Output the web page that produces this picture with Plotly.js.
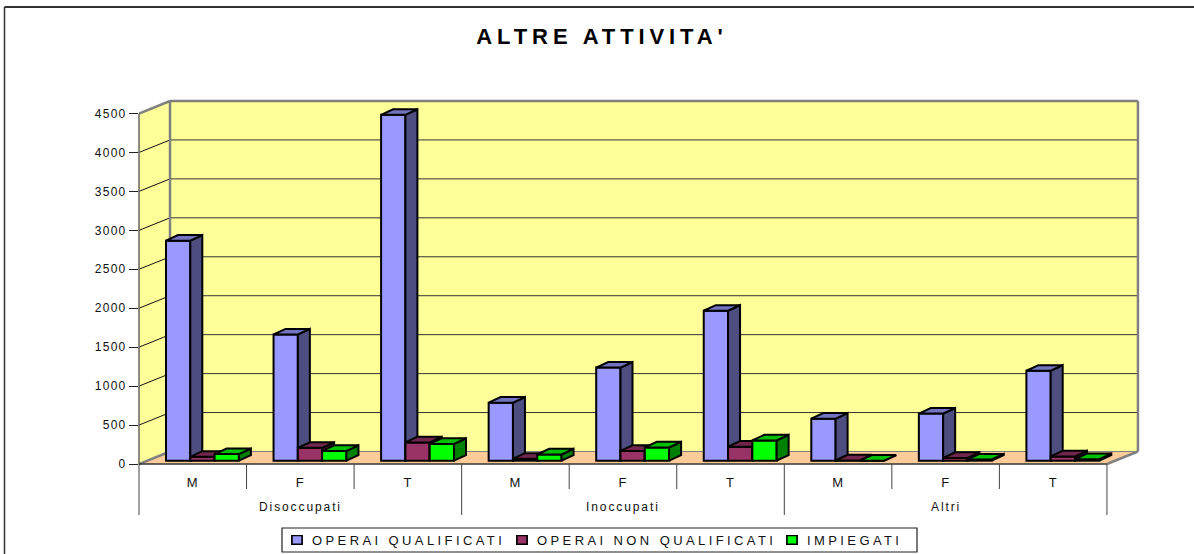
<!DOCTYPE html>
<html>
<head>
<meta charset="utf-8">
<script src="https://cdn.plot.ly/plotly-3.0.1.min.js"></script>
<style>
html,body{margin:0;padding:0;background:#fff;overflow:hidden}
.ytick text{letter-spacing:1.3px}
.xtick text{letter-spacing:1px}
.annotation-text{letter-spacing:1.9px}
.legendtext,.legend2text,.legend3text{letter-spacing:3.4px}
.gtitle{letter-spacing:4.9px}
.legendpoints path{transform:translateX(25px) scale(.85,.72)}
</style>
</head>
<body>
<div id="chart" style="width:1194px;height:554px"></div>
<script>
const titleText = "ALTRE ATTIVITA'";
const groupLabels = ["Disoccupati", "Inoccupati", "Altri"];
const genderLabels = ["M", "F", "T", "M", "F", "T", "M", "F", "T"];
const seriesNames = ["OPERAI QUALIFICATI", "OPERAI NON QUALIFICATI", "IMPIEGATI"];
const operaiQualificati = [2825, 1620, 4440, 745, 1195, 1925, 540, 605, 1155];
const operaiNonQualificati = [50, 165, 235, 25, 125, 180, 3, 35, 55];
const impiegati = [85, 125, 215, 80, 170, 260, 0, 15, 20];
const yTicks = [0, 500, 1000, 1500, 2000, 2500, 3000, 3500, 4000, 4500];

// layout geometry in pixels
const W = 1194, H = 554;
const pL = 139, pR = 1141, pT = 98, pB = 467;
const catPx = 107.55, unitPx = 350.5 / 4500, zeroPx = 464;
const xRange = [0, (pR - pL) / catPx];
const yRange = [-(pB - zeroPx) / unitPx, (zeroPx - pT) / unitPx];
const py = v => 1 - v / H;
const wallDx = 31 / catPx, wallDy = 12.5 / unitPx;
const barW = 24.3 / catPx, barStart = 27 / catPx, barBase = 3.3 / unitPx;
const depthX = 12 / catPx, depthY = 5.6 / unitPx;

const seriesValues = [operaiQualificati, operaiNonQualificati, impiegati];
const frontColors = ["#9999FF", "#993366", "#00FF00"];
const sideColors = ["#4D4D80", "#4C1933", "#008000"];
const topColors = ["#7373BF", "#73264D", "#00BF00"];
const legendIds = ["legend", "legend2", "legend3"];
const legendTextStart = [312, 537, 807];
const legendTextWidth = [195, 240, 100];
const n = genderLabels.length;
const idx = genderLabels.map((_, i) => i);
const outline = {color: "#000", width: 2};

const traces = [];
seriesValues.forEach((vals, s) => {
  const xa = s === 0 ? "x" : "x" + (s + 1), ya = s === 0 ? "y" : "y" + (s + 1);
  const off = barStart + s * barW;
  traces.push({
    type: "bar", name: seriesNames[s], x: idx, y: vals, legend: legendIds[s],
    base: vals.map(() => barBase), width: barW, offset: off,
    xaxis: xa, yaxis: ya, hoverinfo: "skip",
    marker: {color: frontColors[s], line: outline}
  });
  const sx = [], sy = [], tx = [], ty = [];
  vals.forEach((v, i) => {
    const l = i + off, r = l + barW, t = barBase + v;
    sx.push(r, r + depthX, r + depthX, r, r, null);
    sy.push(barBase, barBase + depthY, t + depthY, t, barBase, null);
    tx.push(l, l + depthX, r + depthX, r, l, null);
    ty.push(t, t + depthY, t + depthY, t, t, null);
  });
  [[sx, sy, sideColors[s]], [tx, ty, topColors[s]]].forEach(p => traces.push({
    type: "scatter", mode: "lines", x: p[0], y: p[1], fill: "toself",
    fillcolor: p[2], line: Object.assign({}, outline, {shape: "linear"}), connectgaps: false,
    xaxis: xa, yaxis: ya, showlegend: false, hoverinfo: "skip"
  }));
});

// walls, floor and grid
const topV = 4500 + wallDy, backL = wallDx, backR = n + wallDx;
const poly = pts => "M" + pts.map(p => p[0] + "," + p[1]).join("L") + "Z";
const dataShape = (o) => Object.assign({xref: "x", yref: "y", layer: "below"}, o);
const shapes = [
  dataShape({type: "path", path: poly([[0, 4500], [backL, topV], [backL, wallDy], [0, 0]]), fillcolor: "#FFFF99", line: {width: 0}}),
  dataShape({type: "path", path: poly([[backL, wallDy], [backL, topV], [backR, topV], [backR, wallDy]]), fillcolor: "#FFFF99", line: {width: 0}}),
  dataShape({type: "path", path: poly([[0, 0], [backL, wallDy], [backR, wallDy], [n, 0]]), fillcolor: "#FFCC99", line: {color: "#808080", width: 1}})
];
yTicks.slice(1, -1).forEach(v => {
  shapes.push(dataShape({type: "line", x0: backL, x1: backR, y0: v + wallDy, y1: v + wallDy, line: {color: "#333", width: 1}}));
  shapes.push(dataShape({type: "line", x0: 0, x1: backL, y0: v, y1: v + wallDy, line: {color: "#111", width: 1}}));
});
const gray = {color: "#808080", width: 2.5};
shapes.push(dataShape({type: "line", x0: backL, x1: backL, y0: wallDy, y1: topV, line: gray}));
shapes.push(dataShape({type: "line", x0: backL, x1: backR, y0: topV, y1: topV, line: gray}));
shapes.push(dataShape({type: "line", x0: backR, x1: backR, y0: wallDy, y1: topV, line: gray}));
shapes.push(dataShape({type: "line", x0: 0, x1: backL, y0: 4500, y1: topV, line: gray}));
shapes.push(dataShape({type: "line", x0: 0, x1: backL, y0: 0, y1: wallDy, line: gray}));
shapes.push(dataShape({type: "line", x0: n, x1: backR, y0: 0, y1: wallDy, line: gray}));
const p = (o) => Object.assign({type: "line", xref: "paper", yref: "paper"}, o);
const qx = v => (v - pL) / (pR - pL);
const qy = v => (pB - v) / (pB - pT);
shapes.push(p({x0: qx(pL), x1: qx(pL), y0: qy(zeroPx), y1: qy(zeroPx - 350.5), line: {color: "#666", width: 1.5}}));
shapes.push(p({x0: qx(pL), x1: qx(pL + n * catPx), y0: qy(zeroPx), y1: qy(zeroPx), line: {color: "#111", width: 1.2}}));
for (let i = 0; i <= n; i++) {
  const major = i % 3 === 0;
  const xp = pL + i * catPx;
  shapes.push(p({x0: qx(xp), x1: qx(xp), y0: qy(zeroPx), y1: qy(major ? 515 : 489), line: {color: "#444", width: 1}}));
}
// outer frame of the picture
shapes.push(p({x0: qx(4.5), x1: qx(1194), y0: qy(7), y1: qy(7), line: {color: "#333", width: 2}}));
shapes.push(p({x0: qx(4.5), x1: qx(4.5), y0: qy(7), y1: qy(554), line: {color: "#333", width: 1.5}}));
// legend box
shapes.push({type: "rect", xref: "paper", yref: "paper", x0: qx(282), x1: qx(917), y0: qy(528), y1: qy(552), line: {color: "#222", width: 1.2}, fillcolor: "rgba(0,0,0,0)"});

const annotations = groupLabels.map((g, i) => ({
  text: g, xref: "x", yref: "paper", x: i * 3 + 1.5, y: qy(507), showarrow: false,
  xanchor: "center", yanchor: "middle", font: {family: "Liberation Sans", size: 12, color: "#111"}
}));

const hidden = (extra) => Object.assign({visible: false, fixedrange: true}, extra);
const legendOf = s => ({
  orientation: "h", xref: "container", yref: "container", x: (legendTextStart[s] - 40) / W, y: py(540),
  xanchor: "left", yanchor: "middle", bgcolor: "rgba(0,0,0,0)", borderwidth: 0,
  entrywidth: legendTextWidth[s], entrywidthmode: "pixels",
  font: {family: "Liberation Sans", size: 13, color: "#111"}
});
const layout = {
  width: W, height: H, showlegend: true,
  margin: {l: pL, r: W - pR, t: pT, b: H - pB, pad: 0},
  paper_bgcolor: "#fff", plot_bgcolor: "rgba(0,0,0,0)", bargap: 0,
  font: {family: "Liberation Sans", color: "#111", size: 12},
  title: {text: titleText, x: 602 / W, y: py(36), xanchor: "center", yanchor: "middle", xref: "container",
          font: {family: "Liberation Sans", size: 22, color: "#000", weight: 700}},
  xaxis: {range: xRange, tickmode: "array", tickvals: idx.map(i => i + 0.5), ticktext: genderLabels,
          showgrid: false, zeroline: false, showline: false, ticks: "outside", ticklen: 3, tickcolor: "rgba(0,0,0,0)",
          fixedrange: true, tickfont: {size: 13, family: "Liberation Sans", color: "#111"}},
  yaxis: {range: yRange, tickmode: "array", tickvals: yTicks, ticktext: yTicks.map(String),
          showgrid: false, zeroline: false, showline: false, ticks: "outside", ticklen: 9, tickwidth: 1, tickcolor: "#222",
          fixedrange: true, tickfont: {size: 12, family: "Liberation Sans", color: "#111"}},
  xaxis2: hidden({range: xRange, overlaying: "x", anchor: "y2"}),
  yaxis2: hidden({range: yRange, overlaying: "y", anchor: "x2"}),
  xaxis3: hidden({range: xRange, overlaying: "x", anchor: "y3"}),
  yaxis3: hidden({range: yRange, overlaying: "y", anchor: "x3"}),
  legend: legendOf(0), legend2: legendOf(1), legend3: legendOf(2),
  shapes, annotations
};
Plotly.newPlot("chart", traces, layout, {displayModeBar: false, staticPlot: true});
</script>
</body>
</html>
